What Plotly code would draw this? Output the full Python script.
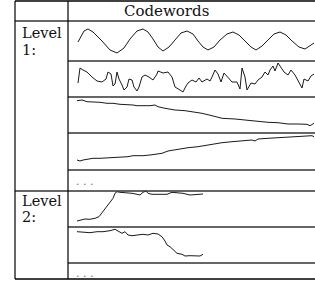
import plotly.graph_objects as go

W, H = 315, 282

# ---- text ----
header_text = "Codewords"
level1_label = ["Level", "1:"]
level2_label = ["Level", "2:"]
ellipsis = ". . ."

# ---- codeword series (t = sample index, v = amplitude) ----
sine_t = [1, 7, 11, 16, 25, 33, 40, 47, 53, 60, 66, 71, 76, 81, 86, 92, 98, 104, 110, 116, 121,
          126, 131, 137, 143, 150, 156, 162, 168, 174, 179, 185, 191, 197, 203, 209, 215, 222, 228, 233, 237]
sine_v = [19, 30, 32, 29, 20, 11, 8, 13, 22, 30, 32, 29, 22, 14, 10, 14, 21, 28, 30, 27, 20,
          14, 11, 14, 21, 27, 29, 26, 20, 14, 11, 15, 21, 27, 29, 26, 20, 14, 12, 15, 18]

noisy_t = [1, 3, 6, 10, 15, 20, 25, 29, 31, 34, 36, 38, 40, 42, 45, 47, 50, 52, 55, 57, 60, 62, 65, 68,
           72, 76, 80, 81, 86, 91, 95, 98, 103, 106, 109, 111, 115, 119, 122, 125, 130, 133, 135, 138,
           141, 144, 147, 151, 155, 160, 163, 165, 168, 170, 174, 178, 181, 185, 188, 191, 193, 196,
           198, 201, 204, 207, 211, 214, 218, 221, 225, 227, 231, 234, 237]
noisy_v = [14, 29, 27, 25, 20, 16, 15, 18, 25, 23, 11, 13, 25, 18, 12, 7, 10, 18, 17, 10, 6, 10, 20, 22,
           20, 17, 23, 26, 24, 25, 20, 10, 7, 5, 11, 14, 17, 15, 19, 15, 18, 16, 20, 27,
           23, 15, 24, 20, 15, 15, 8, 29, 20, 7, 14, 13, 17, 20, 25, 22, 27, 31,
           26, 34, 29, 25, 22, 27, 22, 17, 9, 18, 16, 21, 23]

down_t = [0, 5, 10, 16, 23, 30, 36, 43, 50, 56, 60, 66, 73, 78, 81, 88, 98, 108, 115, 125, 135, 145,
          158, 168, 178, 191, 201, 211, 221, 230, 233, 235, 237]
down_v = [32.3, 33, 31.3, 31.3, 30.7, 29.7, 29.7, 28.7, 28.7, 28, 27.3, 27, 27.3, 28, 26.3, 24.7, 23,
          22.3, 21.3, 19.7, 17.3, 14.7, 14, 13, 11.3, 10.7, 10.3, 9, 9, 8.7, 7.3, 8.7, 9.7]

up_t = [0, 3, 6, 11, 16, 23, 33, 43, 51, 56, 60, 66, 73, 80, 85, 91, 101, 111, 121, 131, 138, 145,
        155, 165, 175, 178, 181, 191, 205, 218, 228, 235, 237]
up_v = [10, 9, 10, 11, 11.7, 11.7, 12.3, 12.7, 13.3, 14.3, 14, 14.3, 15, 15.7, 16.7, 19, 21, 22.3,
        23.3, 25, 25.7, 27.3, 28.3, 29, 30, 29, 31, 31.7, 32.3, 33, 33.3, 34.3, 33.3]

l2a_t = [0, 3, 8, 13, 18, 22, 26, 31, 36, 38, 40, 43, 50, 55, 60, 63, 66, 69, 71, 75, 81, 90, 95,
         100, 106, 113, 120, 126]
l2a_v = [6, 7, 8, 7.7, 8.7, 10.3, 15.3, 22, 28.7, 33.7, 35.3, 34.7, 34.3, 33.7, 32.7, 32, 34.7, 36,
         33.7, 32.7, 32.7, 32.7, 34.7, 34.3, 33.7, 32, 32.7, 33]

l2b_t = [0, 6, 13, 20, 26, 33, 38, 41, 45, 48, 51, 55, 60, 66, 71, 76, 81, 85, 88, 90, 93, 96, 100,
         105, 108, 113, 120, 123, 126]
l2b_v = [31.3, 30.7, 30.3, 31.3, 31.3, 32.3, 33.7, 32, 29.7, 31.3, 28, 27.3, 28, 28.7, 28, 29.7, 29,
         26.3, 22, 18, 16.3, 13, 9.7, 8.7, 7, 7.3, 7.3, 7, 8.7]

series = [(sine_t, sine_v), (noisy_t, noisy_v), (down_t, down_v), (up_t, up_v),
          (l2a_t, l2a_v), (l2b_t, l2b_v)]

# ---- table geometry (pixels) ----
x_left, x_div, x_right = 15, 68, 315
y_top, y_head = 1, 21
cell_rows = [(21, 61), (61, 97), (97, 133), (133, 170), (191, 227), (227, 263)]
y_row_sep, y_bottom = 191, 279
sub_lines_l1 = [61, 97, 133, 170]
sub_lines_l2 = [227, 263]

def px(x):
    return x / W

def py(y):
    return 1 - y / H

fig = go.Figure()
layout_axes = {}
for i, ((t, v), (top, bot)) in enumerate(zip(series, cell_rows), start=1):
    sfx = "" if i == 1 else str(i)
    fig.add_trace(go.Scatter(x=t, y=v, mode="lines", xaxis="x" + sfx, yaxis="y" + sfx,
                             line=dict(color="#1a1a1a", width=1), hoverinfo="skip",
                             showlegend=False))
    layout_axes["xaxis" + sfx] = dict(domain=[px(x_div), 1], range=[-9, 238], visible=False,
                                      anchor="y" + sfx, fixedrange=True)
    layout_axes["yaxis" + sfx] = dict(domain=[py(bot), py(top)], range=[0, bot - top],
                                      visible=False, anchor="x" + sfx, fixedrange=True)

shapes = []
def hline(y, x0, x1, color, w):
    shapes.append(dict(type="line", xref="paper", yref="paper", x0=px(x0), x1=px(x1),
                       y0=py(y), y1=py(y), line=dict(color=color, width=w)))
def vline(x, y0, y1, color, w):
    shapes.append(dict(type="line", xref="paper", yref="paper", x0=px(x), x1=px(x),
                       y0=py(y0), y1=py(y1), line=dict(color=color, width=w)))

hline(y_top, x_left, x_right, "#000000", 1.5)
hline(y_head, x_left, x_right, "#333333", 1.5)
for y in sub_lines_l1:
    hline(y, x_div, x_right, "#333333", 1.5)
hline(y_row_sep, x_left, x_right, "#333333", 1.5)
for y in sub_lines_l2:
    hline(y, x_div, x_right, "#333333", 1.5)
hline(y_bottom, x_left, x_right, "#000000", 1.5)
vline(x_left, y_top, y_bottom, "#000000", 1.2)
vline(x_div, y_top, y_bottom, "#000000", 1.2)

serif = "DejaVu Serif, Liberation Serif, serif"
font = dict(family=serif, size=14.5, color="#111111")
ann = []
def text(s, x, y, xanchor="left", f=font):
    ann.append(dict(text=s, x=px(x), y=py(y), xref="paper", yref="paper", showarrow=False,
                    xanchor=xanchor, yanchor="middle", font=f))

text(header_text, 166, 11, "center", dict(family=serif, size=15, color="#111111"))
text(level1_label[0], 20, 33)
text(level1_label[1], 20, 50)
text(level2_label[0], 20, 201)
text(level2_label[1], 20, 217)
dots_font = dict(family=serif, size=11, color="#777777")
text(ellipsis, 74, 181, "left", dots_font)
text(ellipsis, 74, 273, "left", dots_font)

fig.update_layout(width=W, height=H, margin=dict(l=0, r=0, t=0, b=0),
                  paper_bgcolor="white", plot_bgcolor="rgba(0,0,0,0)",
                  shapes=shapes, annotations=ann, showlegend=False, **layout_axes)

fig.write_html("out.html", config={"displayModeBar": False},
               post_script="document.body.style.margin='0px';document.body.style.padding='0px';")
